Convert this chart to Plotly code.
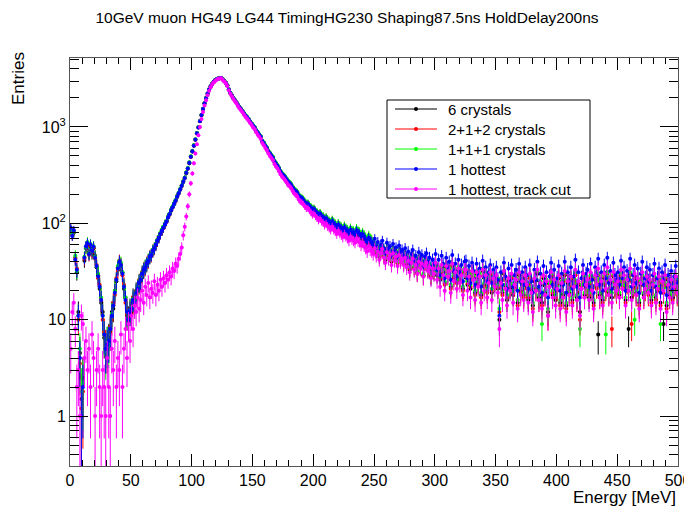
import numpy as np
import plotly.graph_objects as go

# ---------------- data (bin contents, 1.25 MeV bins) ----------------
bin_width = 1.25
n_bins = 400
energy = [bin_width * (i + 0.5) for i in range(n_bins)]

blue_1hottest = [
    90, 74, 85, 42, 33, 11, 4, 1, 2, 44, 58, 62, 48, 60, 52, 57, 44, 36, 28, 22,
    16, 11, 7, 5, 5.5, 6, 8, 11, 14, 19, 26, 34, 40, 37, 30, 22, 16, 12, 10, 12,
    13, 16, 15, 19, 21, 24, 26, 30, 33, 35, 38, 41, 45, 47, 52, 55, 60, 66, 71, 78,
    84, 90, 98, 104, 116, 124, 137, 147, 160, 172, 190, 205, 225, 245, 270, 295, 335, 370, 425, 490,
    560, 640, 740, 860, 990, 1150, 1330, 1540, 1760, 1990, 2220, 2450, 2640, 2800, 2940, 3050, 3130, 3180, 3210, 3220,
    3120, 3010, 2880, 2700, 2450, 2250, 2120, 1990, 1890, 1800, 1690, 1600, 1530, 1460, 1380, 1310, 1260, 1200, 1130, 1080,
    1030, 985, 920, 870, 830, 790, 715, 680, 640, 605, 560, 530, 505, 480, 440, 415, 395, 370, 345, 325,
    315, 300, 285, 270, 262, 250, 235, 222, 216, 208, 194, 184, 183, 175, 166, 158, 160, 151, 146, 137,
    141, 134, 128, 122, 126, 119, 116, 110, 113, 107, 103, 99, 106, 100, 96, 91, 97, 92, 89, 85,
    91, 86, 83, 79, 86, 81, 80, 76, 85, 80, 78, 73, 77, 72, 68, 64, 71, 66, 64, 60,
    69, 57, 64, 52, 60, 66, 55, 49, 63, 54, 58, 47, 61, 51, 56, 45, 59, 50, 53, 46,
    55, 44, 51, 39, 48, 53, 42, 46, 38, 50, 43, 47, 36, 45, 49, 40, 44, 35, 42, 38,
    48, 33, 42, 29, 46, 38, 27, 44, 35, 40, 26, 47, 32, 38, 28, 42, 31, 37, 25, 40,
    41, 27, 36, 24, 39, 32, 23, 38, 29, 34, 22, 41, 28, 35, 25, 31, 37, 24, 33, 28,
    35, 26, 11, 31, 23, 39, 28, 21, 34, 26, 37, 22, 29, 33, 20, 38, 25, 31, 23, 35,
    29, 21, 37, 25, 19, 33, 26, 40, 22, 30, 19, 36, 24, 31, 17, 28, 39, 23, 33, 21,
    27, 36, 20, 30, 23, 40, 19, 31, 25, 35, 21, 28, 42, 22, 31, 17, 27, 37, 23, 30,
    33, 22, 38, 26, 19, 35, 29, 43, 23, 31, 20, 37, 27, 44, 24, 32, 21, 39, 29, 26,
    31, 23, 41, 27, 35, 20, 32, 26, 43, 22, 29, 37, 24, 34, 19, 30, 40, 23, 27, 35,
    25, 33, 20, 29, 38, 22, 27, 34, 19, 31, 26, 37, 18, 29, 23, 32, 21, 28, 36, 24,
]

magenta_trackcut = [
    5, 12, 15, 8, 2, 3, 1, 11, 9, 4, 6, 3, 5, 2, 7, 4, 1, 3, 5, 2,
    1, 3, 2, 1, 4, 2, 1, 5, 3, 6, 2, 4, 3, 7, 2, 5, 8, 4, 9, 6,
    11, 8, 14, 12, 17, 13, 16, 20, 15, 22, 18, 24, 17, 21, 19, 25, 18, 23, 20, 26,
    22, 27, 24, 29, 26, 31, 28, 34, 32, 38, 36, 43, 48, 56, 75, 92, 118, 150, 200, 260,
    330, 420, 530, 660, 820, 1000, 1210, 1430, 1670, 1900, 2140, 2380, 2590, 2760, 2900, 3010, 3100, 3160, 3190, 3200,
    3080, 2970, 2840, 2660, 2410, 2210, 2080, 1950, 1850, 1760, 1650, 1560, 1490, 1420, 1340, 1270, 1220, 1160, 1100, 1050,
    990, 945, 880, 830, 790, 750, 680, 645, 605, 572, 530, 500, 476, 452, 414, 390, 371, 347, 323, 304,
    294, 280, 265, 250, 242, 231, 216, 204, 198, 190, 177, 168, 166, 158, 150, 143, 144, 136, 131, 123,
    126, 119, 114, 108, 111, 105, 102, 96, 99, 93, 90, 86, 92, 86, 83, 78, 83, 79, 76, 72,
    77, 73, 70, 66, 72, 68, 66, 63, 70, 65, 64, 59, 63, 58, 55, 51, 58, 53, 51, 48,
    55, 46, 51, 42, 49, 54, 44, 39, 50, 43, 47, 37, 49, 41, 45, 36, 47, 40, 43, 37,
    44, 35, 41, 31, 39, 43, 33, 37, 30, 40, 34, 38, 28, 36, 39, 32, 35, 27, 34, 30,
    39, 26, 34, 22, 37, 29, 20, 36, 28, 32, 19, 38, 25, 31, 21, 34, 24, 29, 18, 33,
    33, 20, 28, 17, 32, 26, 16, 31, 22, 28, 15, 33, 20, 29, 17, 24, 31, 16, 27, 22,
    29, 19, 8, 24, 16, 32, 21, 14, 27, 20, 30, 15, 23, 26, 13, 31, 18, 25, 16, 29,
    23, 15, 30, 19, 12, 27, 20, 33, 16, 24, 13, 29, 18, 25, 11, 22, 31, 17, 26, 14,
    21, 29, 13, 24, 17, 32, 12, 25, 18, 28, 14, 22, 33, 16, 25, 11, 21, 30, 17, 23,
    26, 16, 31, 20, 13, 29, 23, 34, 17, 25, 14, 30, 21, 35, 18, 26, 15, 31, 23, 20,
    25, 17, 33, 21, 29, 14, 26, 20, 34, 16, 23, 30, 18, 27, 13, 24, 31, 17, 21, 28,
    19, 26, 14, 23, 30, 15, 21, 28, 13, 25, 20, 29, 12, 23, 17, 26, 15, 22, 28, 19,
]

black_6crystals = [
    86, 77, 80, 44, 31, 12, 4.5, 1.5, 2.5, 41, 55, 60, 50, 58, 49, 55, 46, 35, 29, 21,
    15, 12, 6.5, 5, 6, 6.5, 7.5, 12, 13, 20, 25, 35, 38, 36, 31, 21, 17, 11, 10.5, 13,
    12, 17, 14, 20, 20, 25, 25, 31, 32, 36, 37, 42, 44, 48, 51, 56, 59, 67, 70, 79,
    83, 91, 97, 105, 115, 125, 135, 149, 158, 174, 188, 207, 223, 247, 268, 298, 332, 374, 421, 494,
    555, 645, 735, 865, 985, 1155, 1325, 1545, 1755, 1995, 2215, 2455, 2635, 2805, 2935, 3055, 3125, 3185, 3205, 3225,
    3115, 3015, 2875, 2705, 2445, 2255, 2115, 1995, 1885, 1805, 1685, 1605, 1525, 1465, 1375, 1315, 1255, 1205, 1125, 1085,
    1025, 990, 915, 875, 825, 795, 710, 685, 635, 610, 555, 535, 500, 485, 435, 420, 390, 375, 340, 330,
    310, 304, 280, 274, 257, 254, 230, 226, 211, 212, 190, 187, 179, 178, 162, 161, 156, 153, 142, 139,
    137, 136, 124, 124, 122, 121, 112, 112, 109, 109, 99, 101, 102, 102, 92, 93, 93, 94, 85, 87,
    87, 88, 79, 81, 82, 83, 76, 78, 81, 82, 74, 75, 73, 74, 64, 66, 67, 68, 60, 62,
    58, 50, 55, 45, 52, 57, 47, 42, 54, 46, 50, 40, 53, 44, 48, 39, 51, 42, 46, 38,
    47, 38, 44, 33, 41, 45, 35, 39, 31, 42, 36, 40, 29, 38, 41, 33, 37, 28, 35, 31,
    38, 29, 34, 26, 36, 31, 24, 35, 29, 32, 22, 36, 28, 31, 25, 33, 27, 30, 21, 32,
    32, 23, 29, 21, 31, 27, 19, 30, 24, 28, 18, 32, 23, 29, 20, 26, 30, 19, 27, 24,
    27, 21, 10, 25, 19, 30, 22, 16, 26, 21, 28, 18, 23, 25, 15, 29, 20, 24, 18, 27,
    22, 16, 28, 20, 14, 25, 21, 30, 17, 23, 15, 27, 19, 24, 12, 22, 29, 18, 25, 16,
    21, 27, 15, 23, 18, 29, 14, 24, 19, 26, 16, 22, 30, 17, 23, 12, 21, 28, 18, 22,
    24, 17, 28, 20, 15, 26, 22, 7, 18, 23, 16, 27, 21, 31, 19, 24, 17, 28, 22, 20,
    23, 18, 29, 21, 26, 16, 24, 8, 30, 17, 22, 27, 19, 25, 15, 23, 28, 18, 21, 26,
    19, 24, 16, 22, 27, 17, 21, 25, 15, 23, 9, 26, 14, 22, 18, 24, 17, 21, 25, 19,
]

red_212crystals = [
    88, 76, 83, 43, 34, 10, 3.5, 1.2, 1.8, 43, 57, 61, 47, 59, 51, 56, 43, 37, 27, 23,
    16, 10, 7.5, 5.5, 5, 6, 8.5, 10, 15, 18, 27, 33, 41, 38, 29, 23, 15, 13, 9.5, 12,
    14, 15, 16, 18, 22, 23, 27, 29, 34, 34, 39, 40, 46, 46, 53, 54, 61, 65, 72, 77,
    85, 89, 99, 103, 117, 123, 138, 146, 161, 171, 191, 204, 226, 244, 271, 294, 336, 369, 427, 488,
    562, 638, 742, 858, 992, 1148, 1332, 1538, 1762, 1988, 2222, 2448, 2642, 2798, 2942, 3048, 3132, 3178, 3212, 3218,
    3122, 3008, 2882, 2698, 2452, 2248, 2122, 1988, 1892, 1798, 1692, 1598, 1532, 1458, 1382, 1308, 1262, 1198, 1132, 1078,
    1032, 983, 922, 868, 832, 788, 717, 678, 642, 603, 562, 528, 507, 478, 442, 413, 397, 368, 347, 323,
    317, 298, 287, 268, 264, 248, 237, 220, 218, 206, 196, 182, 185, 173, 168, 156, 162, 149, 148, 135,
    143, 132, 130, 120, 128, 117, 118, 108, 115, 105, 105, 97, 108, 98, 98, 89, 99, 90, 91, 83,
    93, 84, 85, 77, 88, 79, 82, 74, 87, 78, 80, 71, 79, 70, 70, 62, 73, 64, 66, 58,
    57, 51, 53, 46, 50, 58, 45, 43, 52, 47, 49, 41, 51, 45, 47, 38, 50, 43, 45, 39,
    46, 39, 43, 34, 40, 46, 34, 40, 30, 43, 35, 41, 28, 39, 40, 34, 36, 29, 34, 32,
    37, 30, 33, 27, 35, 32, 23, 36, 28, 33, 21, 37, 27, 32, 24, 34, 26, 31, 20, 33,
    31, 24, 28, 22, 30, 28, 18, 31, 23, 29, 17, 33, 22, 30, 19, 27, 29, 20, 26, 25,
    26, 22, 12, 26, 18, 31, 21, 17, 25, 22, 27, 19, 22, 26, 14, 30, 19, 25, 17, 28,
    21, 17, 27, 21, 13, 26, 20, 31, 16, 24, 14, 28, 18, 25, 11, 23, 28, 19, 24, 17,
    20, 28, 14, 24, 17, 30, 13, 25, 18, 27, 15, 23, 29, 16, 24, 10, 22, 27, 17, 23,
    23, 18, 27, 21, 14, 27, 21, 29, 17, 24, 15, 28, 20, 30, 18, 25, 8, 29, 21, 19,
    22, 17, 28, 22, 25, 15, 23, 20, 29, 9, 21, 28, 18, 26, 14, 24, 27, 17, 20, 27,
    18, 25, 15, 23, 26, 16, 20, 26, 14, 24, 19, 27, 13, 23, 17, 25, 16, 22, 24, 18,
]

green_111crystals = [
    87, 79, 82, 46, 32, 11, 5, 1.8, 2.2, 45, 56, 64, 49, 61, 53, 58, 45, 36, 30, 22,
    17, 11, 7, 4.5, 6, 5.5, 8, 11.5, 14, 20, 26, 36, 39, 39, 31, 22, 17, 12, 9, 12.5,
    13.5, 16, 15.5, 19, 21.5, 24, 26.5, 30, 33.5, 36, 38, 42, 45, 48, 53, 56, 61, 67, 72, 80,
    86, 92, 99, 106, 118, 126, 139, 150, 163, 175, 193, 208, 228, 248, 274, 299, 340, 375, 430, 496,
    566, 646, 748, 868, 998, 1160, 1340, 1550, 1770, 2000, 2230, 2460, 2650, 2810, 2950, 3060, 3140, 3190, 3220, 3230,
    3130, 3020, 2890, 2710, 2460, 2260, 2130, 2000, 1900, 1810, 1700, 1610, 1540, 1470, 1390, 1320, 1270, 1210, 1140, 1090,
    1040, 995, 930, 880, 840, 800, 725, 690, 650, 615, 570, 540, 515, 490, 448, 422, 402, 376, 352, 332,
    322, 306, 292, 276, 268, 256, 240, 228, 222, 213, 199, 189, 188, 180, 171, 163, 165, 156, 151, 141,
    145, 138, 132, 126, 130, 123, 120, 114, 117, 111, 107, 103, 110, 104, 100, 95, 101, 96, 93, 89,
    95, 90, 87, 83, 90, 85, 84, 80, 89, 84, 82, 77, 81, 76, 72, 68, 75, 70, 68, 64,
    60, 52, 56, 47, 53, 59, 48, 44, 55, 48, 51, 42, 54, 46, 49, 40, 52, 44, 47, 40,
    48, 40, 45, 35, 42, 47, 36, 41, 32, 44, 37, 42, 30, 40, 42, 35, 38, 30, 36, 33,
    39, 31, 35, 28, 37, 33, 25, 37, 30, 34, 23, 38, 29, 33, 26, 35, 28, 32, 22, 34,
    33, 25, 30, 23, 32, 29, 20, 32, 25, 30, 19, 34, 24, 31, 21, 28, 31, 21, 28, 26,
    28, 23, 13, 27, 20, 32, 23, 18, 27, 23, 29, 20, 24, 27, 16, 31, 21, 26, 19, 29,
    23, 18, 29, 22, 15, 27, 22, 32, 18, 25, 9, 29, 20, 26, 13, 24, 30, 20, 26, 18,
    22, 29, 16, 25, 19, 31, 15, 26, 20, 28, 17, 24, 31, 18, 25, 8, 23, 29, 19, 24,
    25, 19, 29, 22, 16, 28, 23, 30, 19, 25, 17, 29, 7, 31, 20, 26, 19, 30, 23, 21,
    24, 19, 30, 23, 27, 17, 25, 22, 31, 19, 23, 10, 20, 27, 16, 25, 29, 19, 22, 28,
    20, 26, 17, 24, 28, 18, 22, 27, 9, 25, 21, 28, 15, 24, 19, 26, 18, 23, 27, 20,
]

series_names = ["6 crystals", "2+1+2 crystals", "1+1+1 crystals", "1 hottest", "1 hottest, track cut"]
series_values = [black_6crystals, red_212crystals, green_111crystals, blue_1hottest, magenta_trackcut]
series_colors = ["#000000", "#ff0000", "#00ff00", "#0000ff", "#ff00ff"]

title_text = "10GeV muon HG49 LG44 TimingHG230 Shaping87.5ns HoldDelay200ns"
x_tick_vals = [0, 50, 100, 150, 200, 250, 300, 350, 400, 450, 500]
y_tick_vals = [1, 10, 100, 1000]
y_tick_text = ["1", "10", "10<sup>2</sup>", "10<sup>3</sup>"]

# ---------------- figure ----------------
# The page body has an 8 px margin, so the figure is 8 px smaller and
# everything is placed 8 px up/left of the target position.
FONT = "Liberation Sans, Arial, Helvetica, sans-serif"
W, H = 684, 498
L, T, PW, PH = 62, 50, 608, 408
FX0, FY1 = 70, 466  # target page pixel of plot-area left / bottom


def px2x(px):
    return (px - FX0) / PW


def py2y(py):
    return (FY1 - py) / PH


fig = go.Figure()

for name, vals, col in zip(series_names, series_values, series_colors):
    v = np.array(vals, dtype=float)
    err = np.sqrt(v)
    fig.add_trace(go.Scatter(
        x=energy, y=v, mode="markers", name=name, showlegend=False,
        marker=dict(color=col, size=4, symbol="circle", line=dict(width=0)),
        error_y=dict(type="data", array=err, visible=True, thickness=1, width=0, color=col),
    ))

# ROOT-style legend box (line + marker + text)
shapes = [dict(type="rect", xref="paper", yref="paper",
               x0=px2x(387), x1=px2x(590), y0=py2y(198), y1=py2y(100),
               fillcolor="white", line=dict(color="black", width=1), layer="above")]
annotations = []
for k, (name, col) in enumerate(zip(series_names, series_colors)):
    cy = 109 + 20 * k
    shapes.append(dict(type="line", xref="paper", yref="paper",
                       x0=px2x(395), x1=px2x(437), y0=py2y(cy), y1=py2y(cy),
                       line=dict(color=col, width=1), layer="above"))
    shapes.append(dict(type="circle", xref="paper", yref="paper",
                       x0=px2x(414), x1=px2x(418), y0=py2y(cy + 2), y1=py2y(cy - 2),
                       fillcolor=col, line=dict(color=col, width=0), layer="above"))
    annotations.append(dict(text=name, xref="paper", yref="paper", x=px2x(446), y=py2y(cy),
                            xanchor="left", yanchor="middle", showarrow=False,
                            font=dict(family=FONT, size=15, color="black")))

annotations += [
    dict(text="Energy [MeV]", xref="paper", yref="paper", x=1.0, y=py2y(497),
         xanchor="right", yanchor="middle", showarrow=False,
         font=dict(family=FONT, size=17, color="black")),
    dict(text="Entries", xref="paper", yref="paper", x=px2x(18), y=py2y(79),
         xanchor="center", yanchor="middle", textangle=-90, showarrow=False,
         font=dict(family=FONT, size=17, color="black")),
]

minor_x = [v for v in range(0, 501, 10) if v % 50 != 0]
minor_y = [0.4, 0.5, 0.6, 0.7, 0.8, 0.9] + [d * m for m in (1, 10, 100) for d in range(2, 10)] + [2000, 3000, 4000, 5000]

fig.update_layout(
    width=W, height=H,
    margin=dict(l=L, r=W - L - PW, t=T, b=H - T - PH, autoexpand=False),
    paper_bgcolor="white", plot_bgcolor="white",
    font=dict(family=FONT, size=16, color="black"),
    title=dict(text=title_text, x=339 / W, xanchor="center", y=1 - 10 / H, yanchor="middle",
               font=dict(family=FONT, size=15.5, color="black")),
    showlegend=False,
    shapes=shapes,
    annotations=annotations,
    xaxis=dict(range=[0, 500], tickmode="array", tickvals=x_tick_vals, automargin=False,
               ticks="inside", ticklen=12, tickcolor="black", tickwidth=1,
               showline=True, linecolor="#555555", linewidth=1, mirror="ticks",
               showgrid=False, zeroline=False,
               tickfont=dict(family=FONT, size=16),
               minor=dict(tickmode="array", tickvals=minor_x, ticks="inside", ticklen=6,
                          tickcolor="black", tickwidth=1, showgrid=False)),
    yaxis=dict(type="log", range=[np.log10(0.303), np.log10(5200)], automargin=False,
               tickmode="array", tickvals=y_tick_vals, ticktext=y_tick_text,
               ticks="inside", ticklen=18, tickcolor="black", tickwidth=1,
               showline=True, linecolor="#555555", linewidth=1, mirror="ticks",
               showgrid=False, zeroline=False,
               tickfont=dict(family=FONT, size=16),
               minor=dict(tickmode="array", tickvals=minor_y, ticks="inside", ticklen=9,
                          tickcolor="black", tickwidth=1, showgrid=False)),
)

fig.write_html("out.html")
